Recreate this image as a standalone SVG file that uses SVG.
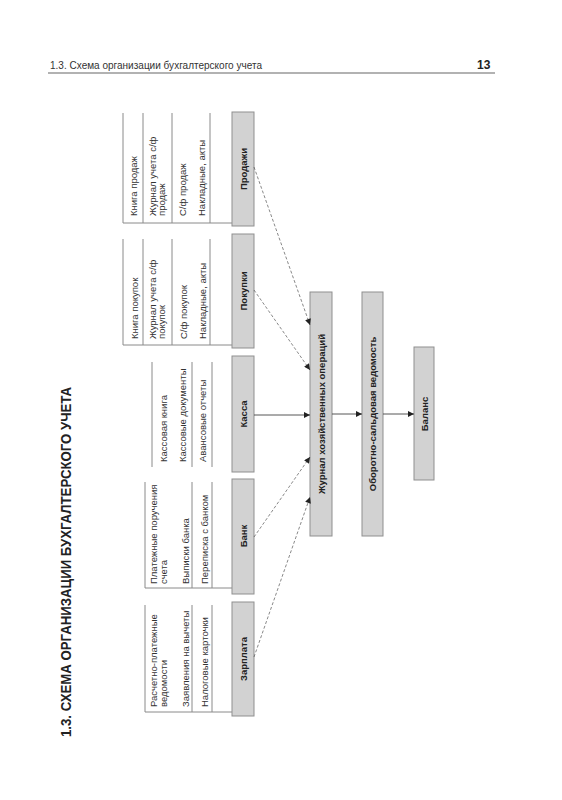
<svg xmlns="http://www.w3.org/2000/svg" width="562" height="800" viewBox="0 0 562 800">
<defs>
<style>
.hdr{font-family:"Liberation Sans",Arial,sans-serif;font-size:10.5px;fill:#333}
.pg{font-family:"Liberation Sans",Arial,sans-serif;font-size:12px;font-weight:bold;fill:#222}
.title{font-family:"Liberation Sans",Arial,sans-serif;font-size:15px;font-weight:bold;fill:#222}
.box{fill:#d2d2d2;stroke:#8f8f8f;stroke-width:1}
.lbl{font-family:"Liberation Sans",Arial,sans-serif;font-size:9.5px;font-weight:bold;fill:#222;text-anchor:middle;dominant-baseline:central}
.item{font-family:"Liberation Sans",Arial,sans-serif;font-size:9.5px;fill:#333;dominant-baseline:central}
.rule{stroke:#8a8a8a;stroke-width:1;fill:none}
.dash{stroke:#555;stroke-width:0.7;fill:none;stroke-dasharray:3,2}
.solid{stroke:#444;stroke-width:0.9;fill:none}
</style>
<marker id="ah" viewBox="0 0 10 10" refX="10" refY="5" markerWidth="8" markerHeight="6" markerUnits="userSpaceOnUse" orient="auto">
<path d="M0,0 L10,5 L0,10 z" fill="#222"/>
</marker>
</defs>
<rect width="562" height="800" fill="#ffffff"/>

<g id="header">
<text class="hdr" x="50" y="69" textLength="212" lengthAdjust="spacingAndGlyphs">1.3. Схема организации бухгалтерского учета</text>
<text class="pg" x="477" y="69">13</text>
<line x1="48" y1="73" x2="495" y2="73" stroke="#999" stroke-width="1.5"/>
</g>

<g id="title">
<text class="title" transform="translate(71,737) rotate(-90)" textLength="350" lengthAdjust="spacingAndGlyphs">1.3. СХЕМА ОРГАНИЗАЦИИ БУХГАЛТЕРСКОГО УЧЕТА</text>
</g>

<g id="list-prodazhi">
<path class="rule" d="M123,113V223M143,113V223M172,113V223M210,113V223M123,223H232"/>
<text class="item" transform="translate(133,216) rotate(-90)">Книга продаж</text>
<text class="item" transform="translate(152.5,216) rotate(-90)">Журнал учета с/ф</text>
<text class="item" transform="translate(161.5,216) rotate(-90)">продаж</text>
<text class="item" transform="translate(182,216) rotate(-90)">С/ф продаж</text>
<text class="item" transform="translate(201.5,216) rotate(-90)">Накладные, акты</text>
</g>

<g id="list-pokupki">
<path class="rule" d="M123,239V345M143,239V345M172,239V345M210,239V345M123,345H232"/>
<text class="item" transform="translate(134,339) rotate(-90)">Книга покупок</text>
<text class="item" transform="translate(152.5,339) rotate(-90)">Журнал учета с/ф</text>
<text class="item" transform="translate(161.5,339) rotate(-90)">покупок</text>
<text class="item" transform="translate(183,339) rotate(-90)">С/ф покупок</text>
<text class="item" transform="translate(202,339) rotate(-90)">Накладные, акты</text>
</g>

<g id="list-kassa">
<path class="rule" d="M152,362V467M192,362V467M212,362V467"/>
<text class="item" transform="translate(163,462) rotate(-90)">Кассовая книга</text>
<text class="item" transform="translate(182,462) rotate(-90)">Кассовые документы</text>
<text class="item" transform="translate(202,462) rotate(-90)">Авансовые отчеты</text>
</g>

<g id="list-bank">
<path class="rule" d="M145,482V588M192,482V588M212,482V588M145,588H232"/>
<text class="item" transform="translate(153,584) rotate(-90)">Платежные поручения</text>
<text class="item" transform="translate(163,584) rotate(-90)">счета</text>
<text class="item" transform="translate(185,584) rotate(-90)">Выписки банка</text>
<text class="item" transform="translate(204,584) rotate(-90)">Переписка с банком</text>
</g>

<g id="list-zarplata">
<path class="rule" d="M145,605V712M192,605V712M212,605V712M145,712H232"/>
<text class="item" transform="translate(153,707) rotate(-90)">Расчетно-платежные</text>
<text class="item" transform="translate(163,707) rotate(-90)">ведомости</text>
<text class="item" transform="translate(185,707) rotate(-90)">Заявления на вычеты</text>
<text class="item" transform="translate(204,707) rotate(-90)">Налоговые карточки</text>
</g>

<g id="node-prodazhi">
<rect class="box" x="232" y="112" width="22" height="114"/>
<text class="lbl" transform="translate(243,169) rotate(-90)">Продажи</text>
</g>
<g id="node-pokupki">
<rect class="box" x="232" y="234" width="22" height="114"/>
<text class="lbl" transform="translate(243,291) rotate(-90)">Покупки</text>
</g>
<g id="node-kassa">
<rect class="box" x="232" y="356" width="22" height="116"/>
<text class="lbl" transform="translate(243,414) rotate(-90)">Касса</text>
</g>
<g id="node-bank">
<rect class="box" x="232" y="479" width="22" height="115"/>
<text class="lbl" transform="translate(243,536) rotate(-90)">Банк</text>
</g>
<g id="node-zarplata">
<rect class="box" x="232" y="602" width="22" height="114"/>
<text class="lbl" transform="translate(243,659) rotate(-90)">Зарплата</text>
</g>

<g id="node-zhurnal">
<rect class="box" x="310" y="292" width="22" height="244"/>
<text class="lbl" transform="translate(321,414) rotate(-90)">Журнал хозяйственных операций</text>
</g>
<g id="node-osv">
<rect class="box" x="362" y="292" width="21" height="244"/>
<text class="lbl" transform="translate(372.5,414) rotate(-90)">Оборотно-сальдовая ведомость</text>
</g>
<g id="node-balans">
<rect class="box" x="414" y="347" width="20" height="133"/>
<text class="lbl" transform="translate(424,414) rotate(-90)">Баланс</text>
</g>

<g id="connectors">
<line class="dash" x1="254" y1="167" x2="310" y2="325" marker-end="url(#ah)"/>
<line class="dash" x1="254" y1="290" x2="310" y2="370" marker-end="url(#ah)"/>
<line class="solid" x1="254" y1="415" x2="310" y2="415" marker-end="url(#ah)"/>
<line class="dash" x1="254" y1="537" x2="310" y2="457" marker-end="url(#ah)"/>
<line class="dash" x1="254" y1="657" x2="310" y2="497" marker-end="url(#ah)"/>
<line class="solid" x1="332" y1="414" x2="362" y2="414" marker-end="url(#ah)"/>
<line class="solid" x1="383" y1="414" x2="414" y2="414" marker-end="url(#ah)"/>
</g>
</svg>
